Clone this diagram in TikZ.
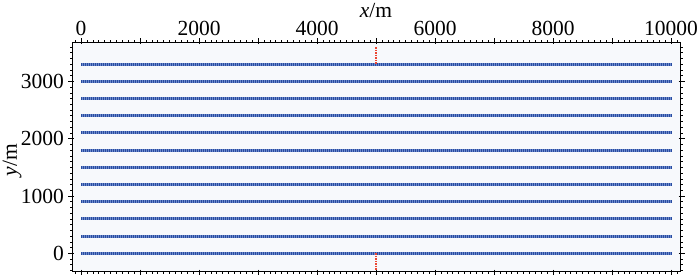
\documentclass[tikz,border=0pt]{standalone}
\usepackage{fontspec}
\setmainfont{Liberation Serif}
\definecolor{bgarea}{RGB}{247,249,252}
\definecolor{lineblue}{RGB}{40,75,160}
\definecolor{lightblue}{RGB}{110,140,205}
\definecolor{linered}{RGB}{235,70,50}
\begin{document}
\begin{tikzpicture}[x=1pt,y=-1pt,
  lbl/.style={inner sep=0pt,font=\fontsize{21.5}{25}\selectfont},
  frameline/.style={line width=0.9pt,black},
  minortick/.style={line width=0.6pt,black},
  majortick/.style={line width=0.9pt,black},
  bluebase/.style={line width=3pt,draw=lightblue},
  blueline/.style={line width=3pt,draw=lineblue,dash pattern=on 1.2pt off 0.8pt},
  redline/.style={line width=2.2pt,draw=linered,dash pattern=on 1.5pt off 1pt}]
\useasboundingbox (0,0) rectangle (700,275);
\fill[white] (0,0) rectangle (700,275);
% plot area
\fill[bgarea] (72,42.5) rectangle (680,271);
\begin{scope}[shift={(81,253.3)},x=0.059pt,y=0.0573pt]
  % survey lines
  \foreach \k in {0,...,11}{
    \draw[bluebase] (0,300*\k) -- (10000,300*\k);
    \draw[blueline] (0,300*\k) -- (10000,300*\k);
  }
  \draw[redline] (5000,3600) -- (5000,3300);
  \draw[redline] (5000,0) -- (5000,-300);
\end{scope}
% frame
\coordinate (frameTL) at (72,42.5);
\coordinate (frameBR) at (680,271);
\draw[frameline] (frameTL) rectangle (frameBR);
% ticks
\foreach \i in {-1,...,101}{
  \pgfmathsetmacro{\px}{81+5.9*\i}
  \draw[minortick] (\px,42.5) -- (\px,40);
  \draw[minortick] (\px,271) -- (\px,273.5);
}
\foreach \i in {0,...,10}{
  \pgfmathsetmacro{\px}{81+59*\i}
  \draw[majortick] (\px,44) -- (\px,38);
  \draw[majortick] (\px,269.5) -- (\px,275);
}
\foreach \j in {-3,...,36}{
  \pgfmathsetmacro{\py}{253.3-5.73*\j}
  \draw[minortick] (72,\py) -- (69.5,\py);
  \draw[minortick] (680,\py) -- (682.5,\py);
}
\foreach \j in {0,...,3}{
  \pgfmathsetmacro{\py}{253.3-57.3*\j}
  \draw[majortick] (73.5,\py) -- (67.5,\py);
  \draw[majortick] (678.5,\py) -- (684.5,\py);
}
% tick labels
\foreach \v/\i in {0/0,2000/2,4000/4,6000/6,8000/8,10000/10}{
  \pgfmathsetmacro{\px}{81+59*\i}
  \node[lbl] (xl\v) at (\px,28.5) {\v};
}
\foreach \v/\j in {0/0,1000/1,2000/2,3000/3}{
  \pgfmathsetmacro{\py}{253.3-57.3*\j}
  \node[lbl,anchor=east] (yl\v) at (64,\py) {\v};
}
\node[lbl] (xtitle) at (376,11) {\textit{x}/m};
\node[lbl,rotate=90] (ytitle) at (12,160) {\textit{y}/m};
\end{tikzpicture}
\end{document}
